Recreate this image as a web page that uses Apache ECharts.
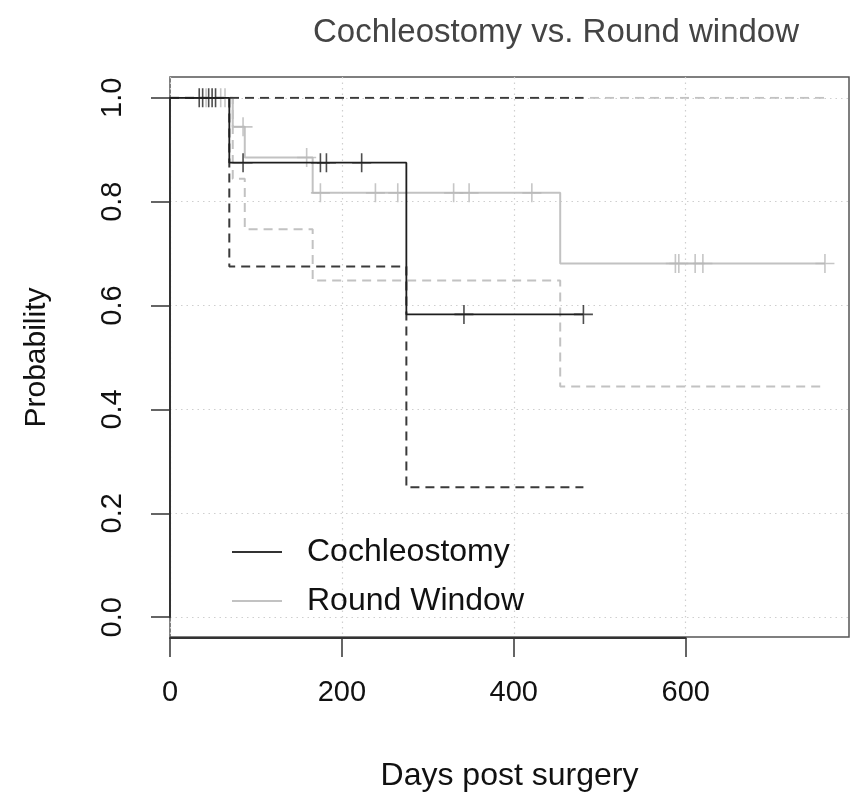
<!DOCTYPE html>
<html>
<head>
<meta charset="utf-8">
<title>Cochleostomy vs. Round window</title>
<script src="https://cdn.jsdelivr.net/npm/echarts@6/dist/echarts.min.js"></script>
<style>
  html, body { margin: 0; padding: 0; background: #fff; }
  #chart { width: 853px; height: 797px; }
</style>
</head>
<body>
<div id="chart"></div>
<script>
// Kaplan-Meier estimates (days post surgery) with pointwise confidence bounds
const cochTimes  = [0, 69, 275, 481];
const cochSurv   = [1, 0.875, 0.583, 0.583];
const cochLower  = [1, 0.675, 0.250, 0.250];
const cochUpper  = [1, 1, 1, 1];
const cochCensor = [34, 38, 45, 49, 53, 85, 175, 182, 223, 342, 481];

const rwTimes  = [0, 73, 87, 166, 454, 762];
const rwSurv   = [1, 0.944, 0.885, 0.817, 0.681, 0.681];
const rwLower  = [1, 0.844, 0.747, 0.648, 0.444, 0.444];
const rwUpper  = [1, 1, 1, 1, 1, 1];
const rwCensor = [42, 59, 64, 85, 159, 175, 239, 265, 330, 348, 421, 588, 592, 611, 620, 762];

// axis ranges
const X_MAX = 790;        // full width of the plotting region, in days
const X_TICK_MAX = 600;   // last labelled day
const X_STEP = 200;
const Y_STEP = 0.2;

const FONT = '"Liberation Sans", Arial, Helvetica, sans-serif';
const DARK = '#1e1e1e';
const LIGHT = '#c2c2c2';

// plotting region in pixels
const PLOT_LEFT = 170, PLOT_RIGHT = 849, PLOT_TOP = 77, PLOT_BOTTOM = 638;
const CHART_W = 853, CHART_H = 797;
const Y_PAD = (PLOT_BOTTOM - PLOT_TOP) * 0.04 / 1.08;   // 4% padding below 0 and above 1
const TICK_AXIS_WIDTH = (PLOT_RIGHT - PLOT_LEFT) * X_TICK_MAX / X_MAX;

function pairs(times, values) {
  return times.map((t, i) => [t, values[i]]);
}
// survival value in effect at day t (right-continuous step function)
function survAt(times, surv, t) {
  let v = surv[0];
  for (let i = 0; i < times.length; i++) {
    if (times[i] <= t) v = surv[i];
  }
  return v;
}
function censorPoints(days, times, surv) {
  return days.map(d => [d, survAt(times, surv, d)]);
}

const PLUS = 'path://M0 10H20M10 0V20';
const DOTTED = { color: '#cfcfcf', width: 1.2, type: [1.5, 4] };

const chart = echarts.init(document.getElementById('chart'), null, { renderer: 'canvas' });

chart.setOption({
  backgroundColor: '#ffffff',
  animation: false,
  title: {
    text: 'Cochleostomy vs. Round window',
    left: 556,
    top: 16,
    padding: 0,
    textAlign: 'center',
    textStyle: { fontFamily: FONT, fontSize: 33, fontWeight: 'normal', color: '#444' }
  },
  legend: {
    data: [
      { name: 'Cochleostomy', icon: 'rect', itemStyle: { color: '#333' } },
      { name: 'Round Window', icon: 'rect', itemStyle: { color: LIGHT } }
    ],
    orient: 'vertical',
    left: 232,
    top: 536,
    padding: 0,
    itemWidth: 50,
    itemHeight: 2,
    itemGap: 17,
    selectedMode: false,
    textStyle: { fontFamily: FONT, fontSize: 32, color: '#111', padding: [0, 0, 0, 20] }
  },
  grid: [
    // plot frame
    { left: PLOT_LEFT, right: CHART_W - PLOT_RIGHT, top: PLOT_TOP, bottom: CHART_H - PLOT_BOTTOM,
      show: true, borderColor: '#555', borderWidth: 1.5, backgroundColor: 'transparent' },
    // data region spanning probability 0..1
    { left: PLOT_LEFT, right: CHART_W - PLOT_RIGHT, top: PLOT_TOP + Y_PAD, bottom: CHART_H - PLOT_BOTTOM + Y_PAD },
    // day axis, drawn from 0 to the last labelled tick
    { left: PLOT_LEFT, width: TICK_AXIS_WIDTH, top: PLOT_TOP, bottom: CHART_H - PLOT_BOTTOM }
  ],
  xAxis: [
    {
      gridIndex: 0, type: 'value', min: 0, max: X_MAX,
      name: 'Days post surgery', nameLocation: 'middle', nameGap: 123,
      nameTextStyle: { fontFamily: FONT, fontSize: 32, color: '#111' },
      axisLine: { show: false, onZero: false },
      axisTick: { show: false },
      axisLabel: { show: false },
      splitLine: { show: false }
    },
    { gridIndex: 1, type: 'value', min: 0, max: X_MAX, show: false },
    {
      gridIndex: 2, type: 'value', min: 0, max: X_TICK_MAX, interval: X_STEP,
      axisLine: { show: true, onZero: false, lineStyle: { color: '#333', width: 2 } },
      axisTick: { show: true, length: 19, inside: false, lineStyle: { color: '#333', width: 1.5 } },
      axisLabel: { show: true, margin: 40, fontFamily: FONT, fontSize: 29, color: '#111' },
      splitLine: { show: true, lineStyle: DOTTED }
    }
  ],
  yAxis: [
    { gridIndex: 0, type: 'value', min: 0, max: 1, show: false },
    {
      gridIndex: 1, type: 'value', min: 0, max: 1, interval: Y_STEP,
      name: 'Probability', nameLocation: 'middle', nameGap: 118, nameRotate: 90,
      nameTextStyle: { fontFamily: FONT, fontSize: 30, color: '#111' },
      axisLine: { show: true, onZero: false, lineStyle: { color: '#333', width: 2 } },
      axisTick: { show: true, length: 19, inside: false, lineStyle: { color: '#333', width: 1.5 } },
      axisLabel: {
        show: true, rotate: 90, margin: 43, fontFamily: FONT, fontSize: 29, color: '#111',
        formatter: v => v.toFixed(1)
      },
      splitLine: { show: true, lineStyle: DOTTED }
    },
    { gridIndex: 2, type: 'value', min: 0, max: 1, show: false }
  ],
  series: [
    // Round window: confidence bounds
    { type: 'line', name: 'rw upper', xAxisIndex: 1, yAxisIndex: 1, step: 'end', symbol: 'none',
      data: pairs(rwTimes, rwUpper), lineStyle: { color: LIGHT, width: 2, type: [9, 6] }, z: 2 },
    { type: 'line', name: 'rw lower', xAxisIndex: 1, yAxisIndex: 1, step: 'end', symbol: 'none',
      data: pairs(rwTimes, rwLower), lineStyle: { color: LIGHT, width: 2, type: [9, 6] }, z: 2 },
    // Round window: survival estimate
    { type: 'line', name: 'Round Window', xAxisIndex: 1, yAxisIndex: 1, step: 'end', symbol: 'none',
      data: pairs(rwTimes, rwSurv), lineStyle: { color: LIGHT, width: 2 }, itemStyle: { color: LIGHT }, z: 3 },
    { type: 'scatter', name: 'rw censored', xAxisIndex: 1, yAxisIndex: 1, symbol: PLUS, symbolSize: 19,
      data: censorPoints(rwCensor, rwTimes, rwSurv),
      itemStyle: { color: 'rgba(0,0,0,0)', borderColor: '#b8b8b8', borderWidth: 1.6 }, z: 3 },
    // Cochleostomy: confidence bounds
    { type: 'line', name: 'coch upper', xAxisIndex: 1, yAxisIndex: 1, step: 'end', symbol: 'none',
      data: pairs(cochTimes, cochUpper), lineStyle: { color: '#3a3a3a', width: 2, type: [9, 6] }, z: 4 },
    { type: 'line', name: 'coch lower', xAxisIndex: 1, yAxisIndex: 1, step: 'end', symbol: 'none',
      data: pairs(cochTimes, cochLower), lineStyle: { color: '#3a3a3a', width: 2, type: [9, 6] }, z: 4 },
    // Cochleostomy: survival estimate
    { type: 'line', name: 'Cochleostomy', xAxisIndex: 1, yAxisIndex: 1, step: 'end', symbol: 'none',
      data: pairs(cochTimes, cochSurv), lineStyle: { color: DARK, width: 1.8 }, itemStyle: { color: DARK }, z: 5 },
    { type: 'scatter', name: 'coch censored', xAxisIndex: 1, yAxisIndex: 1, symbol: PLUS, symbolSize: 19,
      data: censorPoints(cochCensor, cochTimes, cochSurv),
      itemStyle: { color: 'rgba(0,0,0,0)', borderColor: '#222', borderWidth: 1.6 }, z: 5 }
  ]
});
</script>
</body>
</html>
